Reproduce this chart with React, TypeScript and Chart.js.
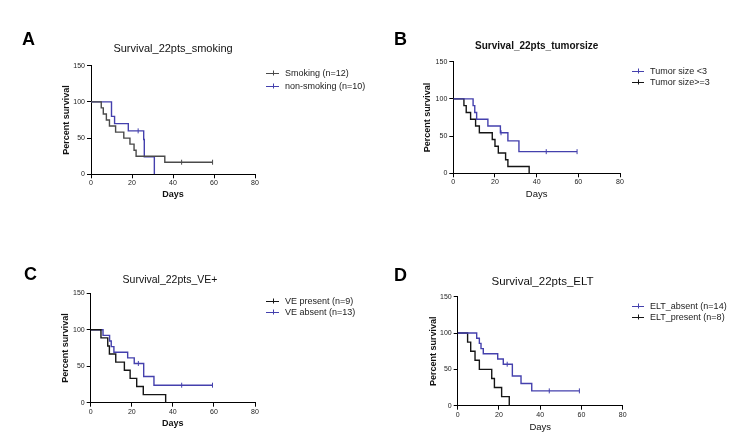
import React, { useEffect, useRef } from 'react';
import { Chart, registerables } from 'chart.js';

Chart.register(...registerables);

const FONT = "'Liberation Sans', Arial, Helvetica, sans-serif";

// ---------- tick labels ----------
const xTickValues = [0, 20, 40, 60, 80];
const yTickValues = [0, 50, 100, 150];

// ---------- Panel A: smoking ----------
const smokingDays = [0, 5, 6, 7.5, 9, 12, 16, 19, 21, 22, 36, 59.3];
const smokingSurv = [100, 91.7, 83.3, 75, 66.7, 58.3, 50, 41.7, 33.3, 25, 16.7, 16.7];
const smokingCensorDays = [44.2, 59.3];
const smokingCensorSurv = [16.7, 16.7];

const nonSmokingDays = [0, 10, 11.5, 18.2, 25.7, 26, 30.9];
const nonSmokingSurv = [100, 80, 70, 60, 48, 24, 0];
const nonSmokingCensorDays = [23];
const nonSmokingCensorSurv = [60];

// ---------- Panel B: tumor size ----------
const tumorSmallDays = [0, 9.5, 10.3, 11.2, 16.6, 22.6, 26.2, 31.5, 59.4];
const tumorSmallSurv = [100, 90.9, 81.8, 72.7, 63.6, 54.5, 43.6, 29.1, 29.1];
const tumorSmallCensorDays = [22.9, 44.6, 59.4];
const tumorSmallCensorSurv = [54.5, 29.1, 29.1];

const tumorLargeDays = [0, 5.1, 6.2, 8.3, 10.7, 12.5, 18.7, 20, 21.6, 25.1, 26.2, 36.4];
const tumorLargeSurv = [100, 90.9, 81.8, 72.7, 63.6, 54.5, 45.5, 36.4, 27.3, 18.2, 9.1, 0];
const tumorLargeCensorDays: number[] = [];
const tumorLargeCensorSurv: number[] = [];

// ---------- Panel C: VE ----------
const vePresentDays = [0, 5, 8.3, 9.1, 12.2, 16.4, 19.2, 22.4, 25.6, 36.5];
const vePresentSurv = [100, 88.9, 77.8, 66.7, 55.6, 44.4, 33.3, 22.2, 11.1, 0];
const vePresentCensorDays: number[] = [];
const vePresentCensorSurv: number[] = [];

const veAbsentDays = [0, 6, 9.2, 10, 11.3, 18, 21.2, 25.8, 30.8, 59.3];
const veAbsentSurv = [100, 92.3, 84.6, 76.9, 69.2, 61.5, 53.8, 35.9, 24, 24];
const veAbsentCensorDays = [23.2, 44.3, 59.3];
const veAbsentCensorSurv = [53.8, 24, 24];

// ---------- Panel D: ELT ----------
const eltAbsentDays = [0, 9.2, 10.5, 11.3, 12.4, 19.4, 22.1, 26.5, 30.7, 35.9, 59];
const eltAbsentSurv = [100, 92.9, 85.7, 78.6, 71.4, 64.3, 57.1, 40.8, 30.6, 20.4, 20.4];
const eltAbsentCensorDays = [24, 44.4, 59];
const eltAbsentCensorSurv = [57.1, 20.4, 20.4];

const eltPresentDays = [0, 4.8, 6.3, 8.4, 10.5, 16.5, 17.8, 21.3, 25];
const eltPresentSurv = [100, 87.5, 75, 62.5, 50, 37.5, 25, 12.5, 0];
const eltPresentCensorDays: number[] = [];
const eltPresentCensorSurv: number[] = [];

const BLUE = '#4440ad';
const BLACK = '#151515';
const GRAY = '#4a4a4a';

type Curve = {
  label: string;
  color: string;
  days: number[];
  surv: number[];
  censorDays: number[];
  censorSurv: number[];
};

type PanelCfg = {
  letter: string;
  title: string;
  titleBold: boolean;
  titleSize: number;
  titleX: number;
  titleY: number;
  left: number;
  top: number;
  width: number;
  height: number;
  area: { l: number; t: number; r: number; b: number };
  yTitleX: number;
  xTitleY: number;
  xTitleBold: boolean;
  xTitleSize: number;
  letterX: number;
  letterBase: number;
  legendX: number;
  legendW: number;
  legendTextX: number;
  legendY: number[];
  curves: Curve[];
};

const panels: PanelCfg[] = [
  {
    letter: 'A', title: 'Survival_22pts_smoking', titleBold: false, titleSize: 11, titleX: 173, titleY: 49,
    left: 0, top: 0, width: 370, height: 217,
    area: { l: 91, t: 65.7, r: 255, b: 174.3 },
    yTitleX: 67, xTitleY: 194.3, xTitleBold: true, xTitleSize: 9,
    letterX: 22, letterBase: 44.5,
    legendX: 266, legendW: 13, legendTextX: 285, legendY: [72.7, 85.7],
    curves: [
      { label: 'Smoking (n=12)', color: GRAY, days: smokingDays, surv: smokingSurv, censorDays: smokingCensorDays, censorSurv: smokingCensorSurv },
      { label: 'non-smoking (n=10)', color: BLUE, days: nonSmokingDays, surv: nonSmokingSurv, censorDays: nonSmokingCensorDays, censorSurv: nonSmokingCensorSurv },
    ],
  },
  {
    letter: 'B', title: 'Survival_22pts_tumorsize', titleBold: true, titleSize: 10, titleX: 166.7, titleY: 46.7,
    left: 370, top: 0, width: 369, height: 217,
    area: { l: 83.3, t: 61.7, r: 250, b: 173.3 },
    yTitleX: 57.5, xTitleY: 194, xTitleBold: false, xTitleSize: 9.5,
    letterX: 24, letterBase: 44.5,
    legendX: 262, legendW: 12, legendTextX: 280, legendY: [70.7, 82.3],
    curves: [
      { label: 'Tumor size <3', color: BLUE, days: tumorSmallDays, surv: tumorSmallSurv, censorDays: tumorSmallCensorDays, censorSurv: tumorSmallCensorSurv },
      { label: 'Tumor size>=3', color: BLACK, days: tumorLargeDays, surv: tumorLargeSurv, censorDays: tumorLargeCensorDays, censorSurv: tumorLargeCensorSurv },
    ],
  },
  {
    letter: 'C', title: 'Survival_22pts_VE+', titleBold: false, titleSize: 10.5, titleX: 170, titleY: 63,
    left: 0, top: 217, width: 370, height: 217,
    area: { l: 90.7, t: 76.3, r: 255, b: 185.7 },
    yTitleX: 66, xTitleY: 206.3, xTitleBold: true, xTitleSize: 9,
    letterX: 24, letterBase: 62.8,
    legendX: 266, legendW: 13, legendTextX: 285, legendY: [84, 94.7],
    curves: [
      { label: 'VE present (n=9)', color: BLACK, days: vePresentDays, surv: vePresentSurv, censorDays: vePresentCensorDays, censorSurv: vePresentCensorSurv },
      { label: 'VE absent (n=13)', color: BLUE, days: veAbsentDays, surv: veAbsentSurv, censorDays: veAbsentCensorDays, censorSurv: veAbsentCensorSurv },
    ],
  },
  {
    letter: 'D', title: 'Survival_22pts_ELT', titleBold: false, titleSize: 11.5, titleX: 172.5, titleY: 64.7,
    left: 370, top: 217, width: 369, height: 217,
    area: { l: 87.7, t: 79.7, r: 252.7, b: 188.7 },
    yTitleX: 63.5, xTitleY: 210.3, xTitleBold: false, xTitleSize: 9.5,
    letterX: 24, letterBase: 63.5,
    legendX: 262, legendW: 12, legendTextX: 280, legendY: [89, 99.7],
    curves: [
      { label: 'ELT_absent (n=14)', color: BLUE, days: eltAbsentDays, surv: eltAbsentSurv, censorDays: eltAbsentCensorDays, censorSurv: eltAbsentCensorSurv },
      { label: 'ELT_present (n=8)', color: BLACK, days: eltPresentDays, surv: eltPresentSurv, censorDays: eltPresentCensorDays, censorSurv: eltPresentCensorSurv },
    ],
  },
];

function KMPanel({ p }: { p: PanelCfg }) {
  const ref = useRef<HTMLCanvasElement>(null);

  useEffect(() => {
    if (!ref.current) return;
    const yLh = 9 * 1.2;
    const xLh = p.xTitleSize * 1.2;
    const padL = p.yTitleX - yLh / 2;
    const yW = p.area.l - padL;
    const xBottom = p.xTitleY + xLh / 2;
    const xH = xBottom - p.area.b;
    const padB = p.height - xBottom;
    const padR = p.width - p.area.r;
    const padT = p.area.t;

    const datasets: any[] = [];
    p.curves.forEach((c) => {
      datasets.push({
        type: 'line',
        label: c.label,
        data: c.days.map((d, i) => ({ x: d, y: c.surv[i] })),
        stepped: true,
        borderColor: c.color,
        backgroundColor: c.color,
        borderWidth: 1.4,
        pointRadius: 0,
        fill: false,
      });
      datasets.push({
        type: 'line',
        label: c.label + ' censored',
        data: c.censorDays.map((d, i) => ({ x: d, y: c.censorSurv[i] })),
        showLine: false,
        pointStyle: 'line',
        rotation: 90,
        pointRadius: 2.5,
        borderWidth: 1,
        borderColor: c.color,
        backgroundColor: c.color,
      });
    });

    const decor = {
      id: 'decor',
      afterDraw(chart: any) {
        const ctx = chart.ctx as CanvasRenderingContext2D;
        ctx.save();
        ctx.fillStyle = '#000';
        ctx.font = `bold 18px ${FONT}`;
        ctx.textAlign = 'left';
        ctx.textBaseline = 'alphabetic';
        ctx.fillText(p.letter, p.letterX, p.letterBase);

        ctx.font = `${p.titleBold ? 'bold ' : ''}${p.titleSize}px ${FONT}`;
        ctx.textAlign = 'center';
        ctx.textBaseline = 'middle';
        ctx.fillStyle = '#111';
        ctx.fillText(p.title, p.titleX, p.titleY);

        ctx.font = `9px ${FONT}`;
        ctx.textAlign = 'left';
        p.curves.forEach((c, i) => {
          const y = Math.round(p.legendY[i]) + 0.5;
          ctx.strokeStyle = c.color;
          ctx.lineWidth = 1;
          ctx.beginPath();
          ctx.moveTo(p.legendX, y);
          ctx.lineTo(p.legendX + p.legendW, y);
          const cx = Math.round(p.legendX + p.legendW / 2) + 0.5;
          ctx.moveTo(cx, y - 3);
          ctx.lineTo(cx, y + 2);
          ctx.stroke();
          ctx.fillStyle = '#222';
          ctx.fillText(c.label, p.legendTextX, y);
        });
        ctx.restore();
      },
    };

    const chart = new Chart(ref.current, {
      type: 'line',
      data: { datasets },
      options: {
        responsive: false,
        animation: false,
        devicePixelRatio: 1,
        events: [],
        layout: { padding: { left: padL, right: padR, top: padT, bottom: padB } },
        plugins: {
          legend: { display: false },
          tooltip: { enabled: false },
          title: { display: false },
        },
        scales: {
          x: {
            type: 'linear',
            min: 0,
            max: 80,
            afterBuildTicks: (s: any) => {
              s.ticks = xTickValues.map((v) => ({ value: v }));
            },
            afterFit: (s: any) => {
              s.height = xH;
            },
            grid: { drawOnChartArea: false, drawTicks: true, tickLength: 4, color: '#000', lineWidth: 1 },
            border: { display: true, color: '#000', width: 1 },
            ticks: { font: { size: 7, family: FONT }, color: '#222', padding: 1, maxRotation: 0, autoSkip: false },
            title: {
              display: true,
              text: 'Days',
              font: { size: p.xTitleSize, weight: p.xTitleBold ? 'bold' : 'normal', family: FONT },
              color: '#111',
              padding: 0,
            },
          },
          y: {
            type: 'linear',
            min: 0,
            max: 150,
            afterBuildTicks: (s: any) => {
              s.ticks = yTickValues.map((v) => ({ value: v }));
            },
            afterFit: (s: any) => {
              s.width = yW;
            },
            grid: { drawOnChartArea: false, drawTicks: true, tickLength: 4, color: '#000', lineWidth: 1 },
            border: { display: true, color: '#000', width: 1 },
            ticks: { font: { size: 7, family: FONT }, color: '#222', padding: 2, autoSkip: false },
            title: {
              display: true,
              text: 'Percent survival',
              font: { size: 9, weight: 'bold', family: FONT },
              color: '#111',
              padding: 0,
            },
          },
        },
      } as any,
      plugins: [decor],
    });
    return () => chart.destroy();
  }, [p]);

  return (
    <canvas
      ref={ref}
      width={p.width}
      height={p.height}
      style={{ position: 'absolute', left: p.left, top: p.top, width: p.width, height: p.height }}
    />
  );
}

export default function App() {
  return (
    <div style={{ position: 'absolute', left: 0, top: 0, width: 739, height: 434, background: '#fff', overflow: 'hidden' }}>
      {panels.map((p) => (
        <KMPanel key={p.letter} p={p} />
      ))}
    </div>
  );
}
